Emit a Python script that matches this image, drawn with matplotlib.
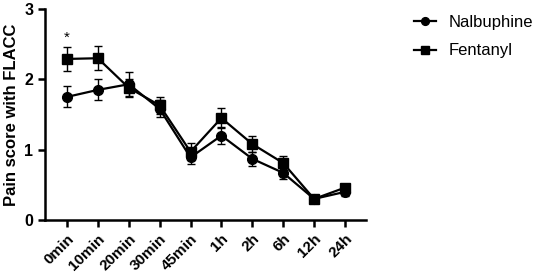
import matplotlib.pyplot as plt

times = ['0min', '10min', '20min', '30min', '45min', '1h', '2h', '6h', '12h', '24h']
nalbuphine = [1.75, 1.85, 1.93, 1.58, 0.89, 1.20, 0.87, 0.67, 0.30, 0.40]
nalbuphine_err = [0.15, 0.15, 0.17, 0.12, 0.10, 0.12, 0.10, 0.09, 0.04, 0.06]
fentanyl = [2.29, 2.30, 1.88, 1.63, 0.97, 1.45, 1.08, 0.81, 0.30, 0.46]
fentanyl_err = [0.17, 0.17, 0.13, 0.12, 0.12, 0.14, 0.12, 0.10, 0.04, 0.05]

plt.rcParams['font.family'] = ['Liberation Sans', 'DejaVu Sans']

fig = plt.figure(figsize=(5.41, 2.78), dpi=100)
ax = fig.add_axes([45/541, 1-220/278, (366-45)/541, (220-9)/278])
x = list(range(len(times)))

n = ax.errorbar(x, nalbuphine, yerr=nalbuphine_err, color='black', marker='o', markersize=7,
                linewidth=1.6, elinewidth=1.0, capsize=3, capthick=1.0, label='Nalbuphine')
f = ax.errorbar(x, fentanyl, yerr=fentanyl_err, color='black', marker='s', markersize=7,
                linewidth=1.6, elinewidth=1.0, capsize=3, capthick=1.0, label='Fentanyl')
ax.text(0, fentanyl[0] + fentanyl_err[0] + 0.03, '*', ha='center', va='bottom', fontsize=11)

ax.set_xlim(-0.71, 9.68)
ax.set_ylim(0, 3)
ax.set_yticks([0, 1, 2, 3])
ax.set_xticks(x)
ax.set_xticklabels(times, rotation=45, ha='right', rotation_mode='anchor', fontweight='bold', fontsize=11)
for lab in ax.get_yticklabels():
    lab.set_fontweight('bold')
    lab.set_fontsize(11.5)
ax.set_ylabel('Pain score with FLACC', fontweight='bold', fontsize=12)
for s in ['top', 'right']:
    ax.spines[s].set_visible(False)
for s in ['left', 'bottom']:
    ax.spines[s].set_linewidth(1.8)
ax.tick_params(width=1.8, length=5, direction='out')

fig.legend([n[0], f[0]], ['Nalbuphine', 'Fentanyl'], loc='upper left',
           bbox_to_anchor=(399/541, 1.0), frameon=False, fontsize=12,
           handlelength=1.3, handletextpad=0.75, labelspacing=0.8, markerscale=0.8)

fig.savefig('out.png', dpi=100)
